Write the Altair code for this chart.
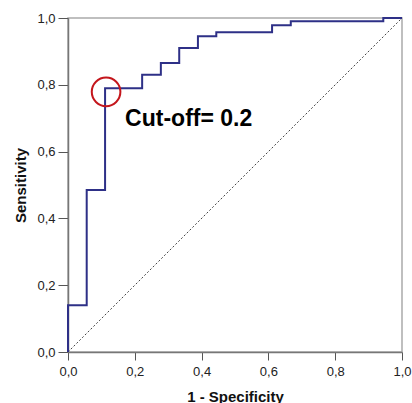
import altair as alt
import pandas as pd

# ROC curve points (1 - specificity, sensitivity), drawn as step-after
fpr = [0.0, 0.0, 0.056, 0.111, 0.222, 0.278, 0.333, 0.389, 0.444, 0.611, 0.667, 0.944, 1.0]
tpr = [0.0, 0.14, 0.485, 0.79, 0.83, 0.865, 0.91, 0.945, 0.957, 0.978, 0.99, 1.0, 1.0]

# reference (chance) line
diag_x = [0.0, 1.0]
diag_y = [0.0, 1.0]

# cut-off marker and its label
cut_x = [0.114]
cut_y = [0.779]
label_text = ["Cut-off= 0.2"]
label_x = [0.171]
label_y = [0.677]

tick_values = [0.0, 0.2, 0.4, 0.6, 0.8, 1.0]

roc = pd.DataFrame({"fpr": fpr, "tpr": tpr})
diag = pd.DataFrame({"fpr": diag_x, "tpr": diag_y})
cut = pd.DataFrame({"fpr": cut_x, "tpr": cut_y})
lab = pd.DataFrame({"fpr": label_x, "tpr": label_y, "t": label_text})

FONT = "Liberation Sans"
label_expr = "replace(format(datum.value, '.1f'), '.', ',')"

xscale = alt.Scale(domain=[0, 1], nice=False, zero=False)
yscale = alt.Scale(domain=[0, 1], nice=False, zero=False)

xaxis = alt.Axis(values=tick_values, labelExpr=label_expr, title="1 - Specificity",
                 grid=False, tickSize=8, labelPadding=5, titlePadding=11,
                 labelFontSize=13, titleFontSize=15, titleFontWeight="bold",
                 labelFont=FONT, titleFont=FONT, labelColor="#222", titleColor="#111",
                 domainColor="#777", tickColor="#555", domainWidth=1.5,
                 labelFlush=False)
yaxis = alt.Axis(values=tick_values, labelExpr=label_expr, title="Sensitivity",
                 grid=False, tickSize=10, labelPadding=3, titlePadding=8,
                 labelFontSize=13, titleFontSize=15, titleFontWeight="bold",
                 labelFont=FONT, titleFont=FONT, labelColor="#222", titleColor="#111",
                 domainColor="#777", tickColor="#555", domainWidth=1.5,
                 labelFlush=False)

diag_line = alt.Chart(diag).mark_line(
    color="#444444", strokeWidth=1, strokeDash=[2, 2]
).encode(
    x=alt.X("fpr:Q", scale=xscale, axis=xaxis),
    y=alt.Y("tpr:Q", scale=yscale, axis=yaxis),
)

roc_line = alt.Chart(roc).mark_line(
    color="#2e3087", strokeWidth=2, interpolate="step-after"
).encode(
    x=alt.X("fpr:Q", scale=xscale),
    y=alt.Y("tpr:Q", scale=yscale),
)

circle = alt.Chart(cut).mark_point(
    shape="circle", filled=False, size=820, color="#c4161c", strokeWidth=2, opacity=1
).encode(
    x=alt.X("fpr:Q", scale=xscale),
    y=alt.Y("tpr:Q", scale=yscale),
)

text = alt.Chart(lab).mark_text(
    align="left", baseline="alphabetic", fontSize=23, fontWeight="bold",
    font=FONT, color="#000000"
).encode(
    x=alt.X("fpr:Q", scale=xscale),
    y=alt.Y("tpr:Q", scale=yscale),
    text="t:N",
)

chart = alt.layer(diag_line, roc_line, circle, text).properties(
    width=334, height=334,
    autosize=alt.AutoSizeParams(type="none"),
    padding={"left": 68, "top": 18, "right": 10, "bottom": 51},
    background="white",
).configure_view(
    stroke="#aaaaaa", strokeWidth=1.5
)

chart.save("out.html", embed_options={"renderer": "svg", "actions": False})
